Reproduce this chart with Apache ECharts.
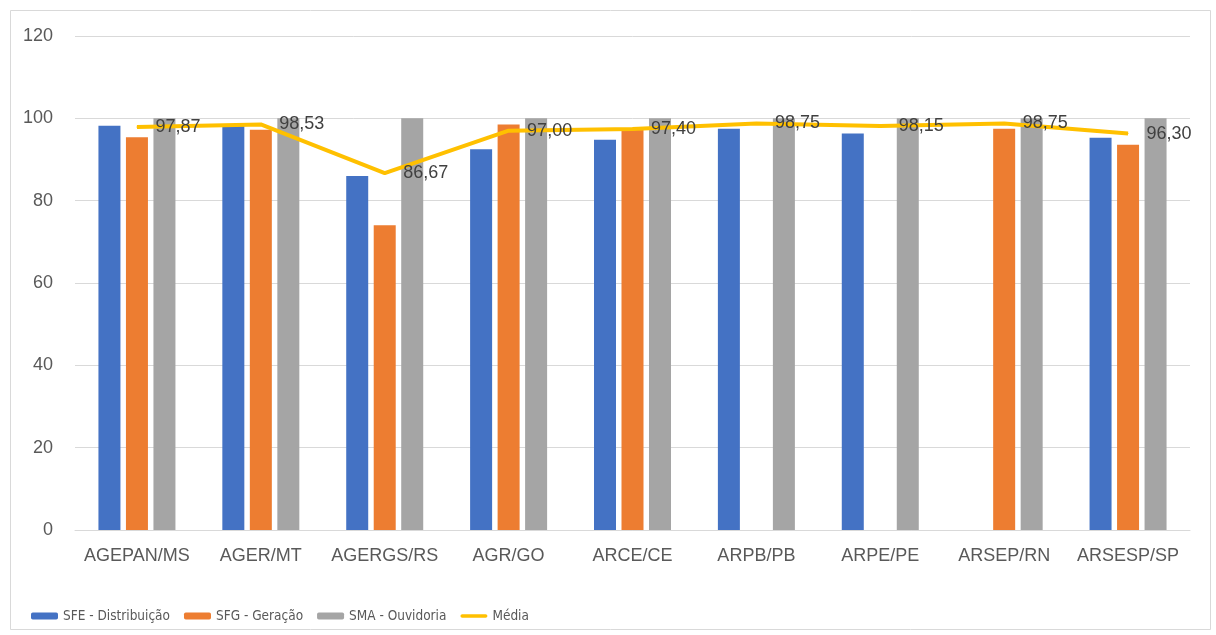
<!DOCTYPE html>
<html>
<head>
<meta charset="utf-8">
<script src="https://cdn.jsdelivr.net/npm/echarts@6/dist/echarts.min.js"></script>
<style>
html,body{margin:0;padding:0;background:#fff;}
#c{width:1216px;height:635px;}
</style>
</head>
<body>
<div id="c"></div>
<script>
const categories = ['AGEPAN/MS','AGER/MT','AGERGS/RS','AGR/GO','ARCE/CE','ARPB/PB','ARPE/PE','ARSEP/RN','ARSESP/SP'];
const sfe = [98.2, 98.4, 86.0, 92.5, 94.8, 97.5, 96.3, null, 95.3];
const sfg = [95.4, 97.2, 74.0, 98.5, 97.4, null, null, 97.5, 93.6];
const sma = [100, 100, 100, 100, 100, 100, 100, 100, 100];
const media = [97.87, 98.53, 86.67, 97.00, 97.40, 98.75, 98.15, 98.75, 96.30];
const yTicks = [0, 20, 40, 60, 80, 100, 120];

const FONT = '"Liberation Sans", Arial, sans-serif';
const chart = echarts.init(document.getElementById('c'));
chart.setOption({
  animation: false,
  backgroundColor: '#fff',
  graphic: [{
    type: 'rect', left: 8, top: 8,
    shape: { width: 1200, height: 619 },
    style: { fill: 'none', stroke: '#d9d9d9', lineWidth: 1 }
  }],
  grid: { left: 75, right: 26, top: 36, bottom: 105 },
  legend: {
    left: 26, top: 604,
    itemWidth: 27, itemHeight: 7, itemGap: 14,
    textStyle: { fontFamily: '"Liberation Sans Narrow", "DejaVu Sans Condensed", ' + FONT, fontSize: 13.5, color: '#595959' },
    data: [
      'SFE - Distribuição', 'SFG - Geração', 'SMA - Ouvidoria',
      { name: 'Média', icon: 'path://M2,0 L28,0 A2,2 0 0 1 28,4 L2,4 A2,2 0 0 1 2,0 Z', itemStyle: { color: '#FFC000' } }
    ]
  },
  xAxis: {
    type: 'category',
    data: categories,
    axisLine: { lineStyle: { color: '#d9d9d9' } },
    axisTick: { show: false },
    axisLabel: { color: '#595959', fontFamily: FONT, fontSize: 18, margin: 17, interval: 0 }
  },
  yAxis: {
    type: 'value',
    min: yTicks[0], max: yTicks[yTicks.length - 1], interval: 20,
    axisLine: { show: false },
    axisTick: { show: false },
    splitLine: { lineStyle: { color: '#d9d9d9' } },
    axisLabel: { color: '#595959', fontFamily: FONT, fontSize: 18, margin: 22 }
  },
  series: [
    { name: 'SFE - Distribuição', type: 'bar', data: sfe, barWidth: 22, barGap: '25%', itemStyle: { color: '#4472C4' } },
    { name: 'SFG - Geração', type: 'bar', data: sfg, barWidth: 22, barGap: '25%', itemStyle: { color: '#ED7D31' } },
    { name: 'SMA - Ouvidoria', type: 'bar', data: sma, barWidth: 22, barGap: '25%', itemStyle: { color: '#A5A5A5' } },
    {
      name: 'Média', type: 'line', data: media, symbol: 'circle', symbolSize: 1, showSymbol: true,
      lineStyle: { color: '#FFC000', width: 4 },
      itemStyle: { color: '#FFC000' },
      label: {
        show: true, position: 'right', distance: 18,
        color: '#404040', fontFamily: FONT, fontSize: 18,
        formatter: p => p.value.toFixed(2).replace('.', ',')
      },
      labelLayout: { hideOverlap: false },
      z: 5
    }
  ]
});
</script>
</body>
</html>
